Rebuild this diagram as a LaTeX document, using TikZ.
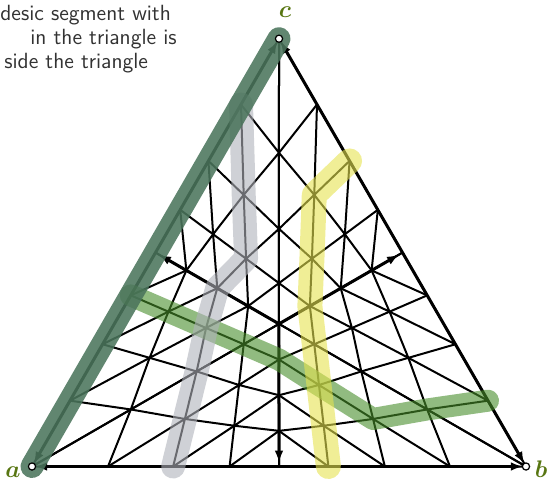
\documentclass[tikz,border=0pt]{standalone}
\usepackage{amsmath,amssymb,bm}
\usepackage{tikz}
\usetikzlibrary{arrows.meta}

\definecolor{labcol}{RGB}{88,118,18}
\definecolor{notecol}{RGB}{50,50,50}
\definecolor{edgeband}{RGB}{75,117,92}
\definecolor{greenband}{RGB}{72,142,43}
\definecolor{greyband}{RGB}{175,178,186}
\definecolor{yellowband}{RGB}{230,227,80}

\begin{document}
\begin{tikzpicture}[x=0.5pt,y=-0.5pt,
  gridline/.style={line width=1pt,line join=round},
  side/.style={{Latex[length=6pt,width=4.4pt]}-{Latex[length=6pt,width=4.4pt]},line width=1.5pt,shorten <=1.6pt,shorten >=1.6pt},
  midarrow/.style={-{Latex[length=6pt,width=4.4pt]},line width=1.5pt,shorten >=2pt},
  band/.style={line cap=round,line join=round,opacity=0.6},
  note/.style={anchor=base west,inner sep=0pt,text=notecol,font=\sffamily\fontsize{11}{13}\selectfont},
  lab/.style={text=labcol,font=\large}]
\useasboundingbox (0,0) rectangle (547,481);
\coordinate (a) at (32,466.5);
\coordinate (b) at (526,466.5);
\coordinate (c) at (279,38.7);
\coordinate (o) at (barycentric cs:a=1,b=1,c=1);
\coordinate (mab) at (barycentric cs:a=1,b=1);
\coordinate (mbc) at (barycentric cs:b=1,c=1);
\coordinate (mac) at (barycentric cs:a=1,c=1);

% grid points, six sectors: vertex, opposite vertex of the pencil, third vertex
\foreach \s/\px/\py/\pz in {1/b/c/a,2/b/a/c,3/c/a/b,4/c/b/a,5/a/b/c,6/a/c/b}{
  \foreach \u in {0,...,4}{
    \pgfmathtruncatemacro\wmax{4-\u}
    \foreach \w in {0,...,\wmax}{
      \pgfmathsetmacro\tpar{\w/max(4-\u,1)}
      \pgfmathsetmacro\wx{(1-\tpar)*(8+\u)/(24-3*\u)+\tpar*(8+\u)/(16-\u)}
      \pgfmathsetmacro\wy{(1-\tpar)*(8-2*\u)/(24-3*\u)}
      \pgfmathsetmacro\wz{(1-\tpar)*(8-2*\u)/(24-3*\u)+\tpar*(8-2*\u)/(16-\u)}
      \coordinate (p\s-\u-\w) at (barycentric cs:\px=\wx,\py=\wy,\pz=\wz);
    }
  }
}

% mesh
\foreach \s in {1,...,6}{
  \foreach \u in {0,...,3}{
    \pgfmathtruncatemacro\wmax{3-\u}
    \pgfmathtruncatemacro\un{\u+1}
    \foreach \w in {0,...,\wmax}{
      \pgfmathtruncatemacro\wn{\w+1}
      \draw[gridline] (p\s-\u-\w) -- (p\s-\un-\w) -- (p\s-\u-\wn) -- cycle;
    }
  }
}

\draw[midarrow] (o) -- (mab);
\draw[midarrow] (o) -- (mbc);
\draw[midarrow] (o) -- (mac);

\draw[side] (a) -- (b);
\draw[side] (b) -- (c);
\draw[side] (c) -- (a);

% geodesics
\draw[band,greenband,line width=11pt] (p5-1-3) -- (p5-1-2) -- (p5-1-1) -- (p5-1-0) -- (p1-0-1) -- (p1-1-1) -- (p1-2-1) -- (p1-3-0) -- (p2-3-1);
\draw[band,greyband,line width=12pt] (p4-3-1) -- (p4-2-1) -- (p4-1-1) -- (p5-0-2) -- (p5-1-1) -- (p5-2-0) -- (p6-2-1) -- (p6-2-2);
\draw[band,yellowband,line width=12.5pt] (p3-2-2) -- (p3-2-1) -- (p3-1-1) -- (p3-0-1) -- (p1-1-0) -- (p1-1-1) -- (p1-1-2) -- (p1-1-3);
\draw[band,edgeband,opacity=0.88,line width=11.5pt] (a) -- (c);

\foreach \v in {a,b,c}
  \draw[fill=white,line width=0.6pt] (\v) circle (1.8pt);

\node[lab] (la) at (13,472) {$\bm{a}$};
\node[lab] (lb) at (541,469) {$\bm{b}$};
\node[lab] (lc) at (285,12) {$\bm{c}$};

\node[note] (t1) at (0,21) {desic segment with};
\node[note] (t2) at (30,45) {in the triangle is};
\node[note] (t3) at (4,69) {side the triangle};
\end{tikzpicture}
\end{document}
